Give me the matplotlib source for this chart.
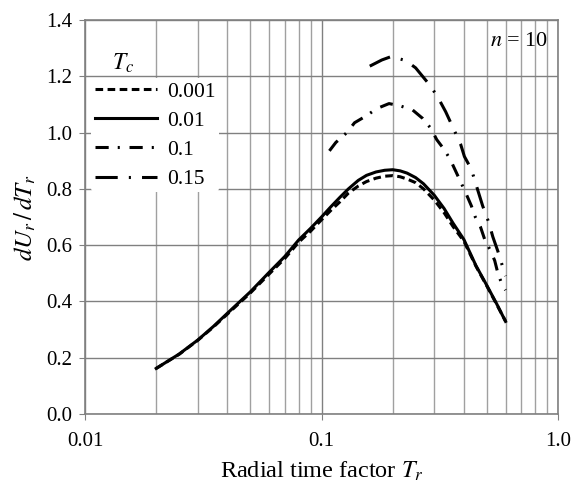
import matplotlib
matplotlib.use("Agg")
import matplotlib.pyplot as plt
from matplotlib.ticker import LogLocator, FixedLocator, NullFormatter

plt.rcParams['font.family'] = ['Liberation Serif', 'DejaVu Serif']
plt.rcParams['mathtext.fontset'] = 'stix'
plt.rcParams['lines.scale_dashes'] = False

# Data
T_a = [0.02, 0.025, 0.03, 0.035, 0.04, 0.05, 0.06, 0.07, 0.08, 0.09, 0.1, 0.11, 0.12, 0.13, 0.143, 0.155,
       0.17, 0.185, 0.2, 0.215, 0.23, 0.25, 0.27, 0.3, 0.33, 0.36, 0.4, 0.45, 0.5, 0.55, 0.6]
v_0001 = [0.162, 0.212, 0.262, 0.31, 0.355, 0.43, 0.497, 0.553, 0.61, 0.65, 0.69, 0.725, 0.755, 0.785, 0.81, 0.826,
          0.838, 0.845, 0.847, 0.843, 0.835, 0.822, 0.8, 0.76, 0.715, 0.666, 0.614, 0.525, 0.455, 0.39, 0.33]
v_001 = [0.162, 0.213, 0.263, 0.312, 0.358, 0.434, 0.503, 0.56, 0.618, 0.66, 0.70, 0.738, 0.771, 0.80, 0.83, 0.848,
         0.86, 0.866, 0.868, 0.864, 0.856, 0.84, 0.818, 0.777, 0.73, 0.678, 0.62, 0.527, 0.457, 0.392, 0.329]

T_01 = [0.108, 0.115, 0.128, 0.138, 0.155, 0.171, 0.193, 0.215, 0.243, 0.268, 0.29, 0.307, 0.33, 0.35,
        0.39, 0.41, 0.43, 0.447, 0.47, 0.49, 0.52, 0.54, 0.557, 0.58, 0.6]
v_01 = [0.935, 0.965, 1.0, 1.035, 1.06, 1.085, 1.103, 1.095, 1.08, 1.05, 1.015, 0.975, 0.94, 0.905,
        0.82, 0.78, 0.74, 0.70, 0.665, 0.62, 0.578, 0.545, 0.50, 0.46, 0.44]

T_015 = [0.16, 0.18, 0.197, 0.227, 0.25, 0.29, 0.313, 0.335, 0.366, 0.387, 0.402, 0.43, 0.46, 0.48,
         0.51, 0.53, 0.557, 0.6]
v_015 = [1.236, 1.258, 1.27, 1.256, 1.23, 1.164, 1.12, 1.074, 1.004, 0.96, 0.915, 0.87, 0.79, 0.74,
         0.68, 0.63, 0.578, 0.49]

labels = ['0.001', '0.01', '0.1', '0.15']
y_ticks = [0.0, 0.2, 0.4, 0.6, 0.8, 1.0, 1.2, 1.4]
x_ticks = [0.01, 0.1, 1.0]
x_ticklabels = ['0.01', '0.1', '1.0']

fig = plt.figure(figsize=(5.73, 4.92), dpi=100)
ax = fig.add_axes([85 / 573, 1 - 414 / 492, 473 / 573, 394 / 492])

lw = 2.2
ax.plot(T_a, v_0001, color='black', lw=lw, linestyle=(0, (5.5, 3.2)), label=labels[0])
ax.plot(T_a, v_001, color='black', lw=lw, linestyle='-', label=labels[1])
ax.plot(T_01, v_01, color='black', lw=lw, linestyle=(0, (9.5, 6.5, 1.5, 7)), label=labels[2])
ax.plot(T_015, v_015, color='black', lw=lw, linestyle=(0, (16, 8, 1.5, 8)), label=labels[3])

ax.set_xscale('log')
ax.set_xlim(0.01, 1.0)
ax.set_ylim(0.0, 1.4)
ax.xaxis.set_major_locator(FixedLocator(x_ticks))
ax.set_xticklabels(x_ticklabels)
ax.xaxis.set_minor_locator(LogLocator(base=10, subs=range(2, 10)))
ax.xaxis.set_minor_formatter(NullFormatter())
ax.set_yticks(y_ticks)
ax.set_yticklabels([f'{v:.1f}' for v in y_ticks])

ax.grid(True, which='major', axis='both', color='#808080', lw=1.0)
ax.grid(True, which='minor', axis='x', color='#a0a0a0', lw=1.0)
ax.set_axisbelow(True)
for s in ax.spines.values():
    s.set_color('#808080')
    s.set_linewidth(1.2)
ax.tick_params(which='major', length=4, color='#808080', labelsize=15)
ax.tick_params(axis='x', which='major', pad=9)
ax.tick_params(axis='y', which='major', pad=5)
ax.tick_params(which='minor', length=0)

ax.set_xlabel('Radial time factor $T_r$', fontsize=17.5, labelpad=6)
ax.set_ylabel('$dU_r\\,/\\,dT_r$', fontsize=18, labelpad=6)

ax.text(0.98, 0.945, '$n$ = 10', transform=ax.transAxes, ha='right', va='center', fontsize=16)

leg = ax.legend(loc='upper left', bbox_to_anchor=(0.0, 0.868), fontsize=15.5,
                handlelength=2.9, labelspacing=0.42, handletextpad=0.45,
                borderpad=0.15, frameon=True, framealpha=1.0, edgecolor='none', facecolor='white',
                borderaxespad=0.3)
ax.text(0.057, 0.89, '$T_c$', transform=ax.transAxes, ha='left', va='center', fontsize=17)

fig.savefig('out.png', dpi=100)
